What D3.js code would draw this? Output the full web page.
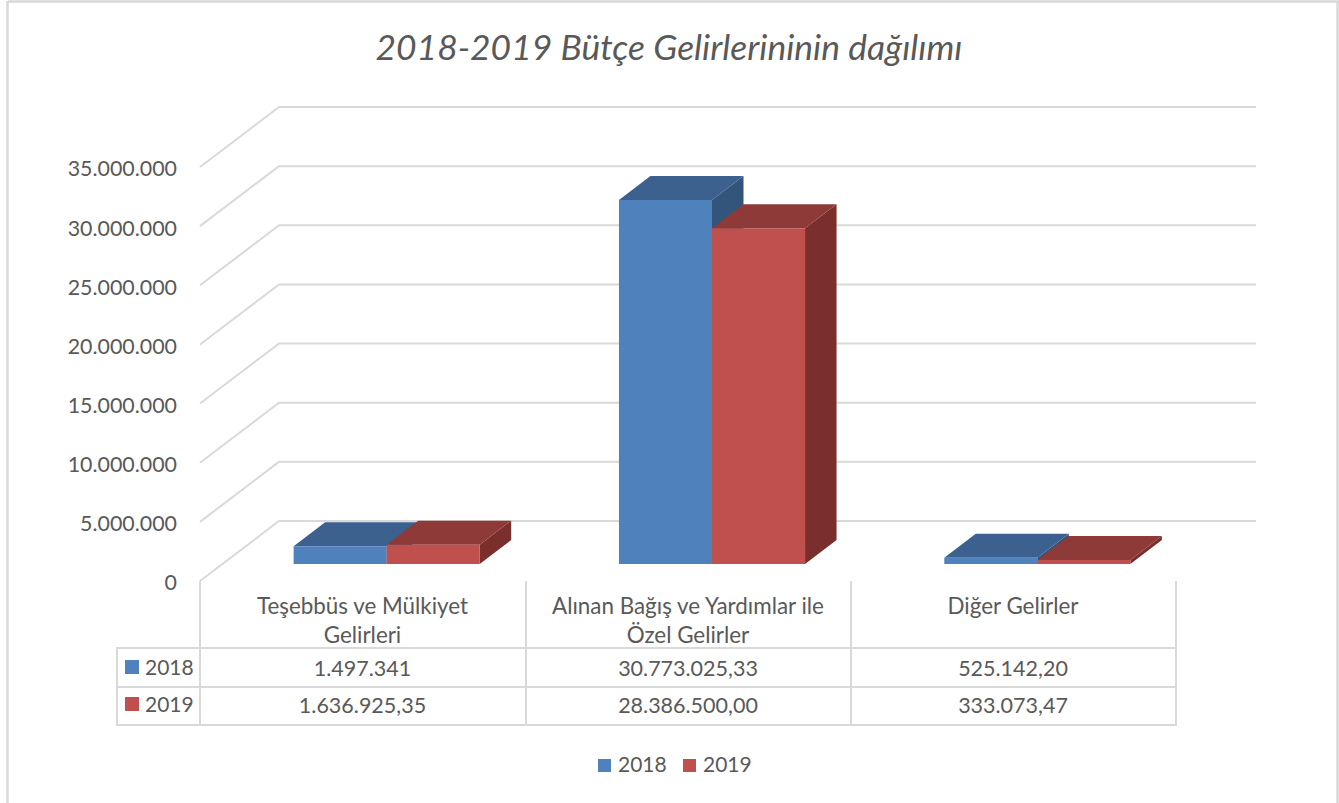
<!DOCTYPE html>
<html><head><meta charset="utf-8">
<script src="https://cdn.jsdelivr.net/npm/d3@7"></script>
<style>html,body{margin:0;background:#fff}svg{display:block}text{font-family:Lato,"Open Sans",sans-serif;fill:#595959}</style>
</head><body><svg id="c" width="1339" height="803"></svg>
<script>
const titleText = "2018-2019 Bütçe Gelirlerininin dağılımı";
const categories = ["Teşebbüs ve Mülkiyet Gelirleri","Alınan Bağış ve Yardımlar ile Özel Gelirler","Diğer Gelirler"];
const categoryLines = [["Teşebbüs ve Mülkiyet","Gelirleri"],["Alınan Bağış ve Yardımlar ile","Özel Gelirler"],["Diğer Gelirler"]];
const seriesNames = ["2018","2019"];
const values2018 = [1497341,30773025.33,525142.20];
const values2019 = [1636925.35,28386500,333073.47];
const labels2018 = ["1.497.341","30.773.025,33","525.142,20"];
const labels2019 = ["1.636.925,35","28.386.500,00","333.073,47"];
const yTicks = [0,5000000,10000000,15000000,20000000,25000000,30000000,35000000];

const colors = {"2018":{front:"#4f81bd",top:"#3c618f",side:"#33547b"},"2019":{front:"#c0504d",top:"#8e3a38",side:"#7a2f2d"}};
const grid="#d9d9d9";
const svg=d3.select("#c");
const y=d3.scaleLinear().domain([0,35000000]).range([581,167]);
const x=d3.scaleBand().domain(categories).range([200,1176]).paddingInner(0.428).paddingOuter(0.214);
const sub=d3.scaleBand().domain(seriesNames).range([0,x.bandwidth()]);
const wall={dx:79,dy:-60}, floor={dx:24,dy:-17}, depth={dx:31.5,dy:-24};
const line=(x1,y1,x2,y2,w=2)=>svg.append("line").attr("x1",x1).attr("y1",y1).attr("x2",x2).attr("y2",y2).attr("stroke",grid).attr("stroke-width",w);

// chart frame
line(8,1.5,1339,1.5,2.5); line(7.5,1,7.5,803,2.5); line(1337.5,1,1337.5,803,2.5);

// title
svg.append("text").attr("x",669).attr("y",60).attr("text-anchor","middle").style("font-size","35.4px").style("font-style","italic").text(titleText);

// walls / gridlines
svg.append("g").selectAll("path").data(yTicks).join("path")
  .attr("fill","none").attr("stroke",grid).attr("stroke-width",2)
  .attr("d",d=>d3.line()([[200,y(d)],[200+wall.dx,y(d)+wall.dy],[1176+wall.dx+1,y(d)+wall.dy]]));

// y axis labels
const axis=svg.append("g").attr("transform","translate(184,2)")
  .call(d3.axisLeft(y).tickValues(yTicks).tickSize(0).tickPadding(7).tickFormat(d=>d3.format(",")(d).replace(/,/g,".")));
axis.select(".domain").remove();
axis.selectAll("text").style("font-size","21.4px").style("fill","#595959");

// bars
const series=[{name:"2018",vals:values2018,labels:labels2018},{name:"2019",vals:values2019,labels:labels2019}];
const bars=svg.append("g");
series.forEach(s=>{
  const c=colors[s.name];
  categories.forEach((cat,i)=>{
    const x0=x(cat)+sub(s.name)+floor.dx, x1=x0+sub.bandwidth();
    const yb=y(0)+floor.dy, yt=y(s.vals[i])+floor.dy;
    const poly=(pts,f)=>bars.append("polygon").attr("points",pts.map(p=>p.join(",")).join(" ")).attr("fill",f);
    poly([[x1,yt],[x1+depth.dx,yt+depth.dy],[x1+depth.dx,yb+depth.dy],[x1,yb]],c.side);
    poly([[x0,yt],[x0+depth.dx,yt+depth.dy],[x1+depth.dx,yt+depth.dy],[x1,yt]],c.top);
    poly([[x0,yt],[x1,yt],[x1,yb],[x0,yb]],c.front);
  });
});

// data table
const rowY=[648,687,725], colX=[200,526,851,1176];
rowY.forEach(v=>line(117,v,1177,v));
line(117,647,117,726);
colX.forEach(v=>line(v,581,v,726));
const cx=i=>(colX[i]+colX[i+1])/2;
categoryLines.forEach((ls,i)=>ls.forEach((t,j)=>svg.append("text").attr("x",cx(i)-0.5).attr("y",614+j*29).attr("text-anchor","middle").style("font-size","22.4px").text(t)));
series.forEach((s,r)=>{
  const yc=[668,705][r];
  svg.append("rect").attr("x",125).attr("y",yc-8).attr("width",14).attr("height",14).attr("fill",colors[s.name].front);
  svg.append("text").attr("x",145).attr("y",yc+7).style("font-size","21px").text(s.name);
  s.labels.forEach((t,i)=>svg.append("text").attr("x",cx(i)-0.5).attr("y",yc+8).attr("text-anchor","middle").style("font-size","21.5px").text(t));
});

// legend
const legendX=[598,683];
series.forEach((s,i)=>{
  svg.append("rect").attr("x",legendX[i]).attr("y",759).attr("width",13).attr("height",13).attr("fill",colors[s.name].front);
  svg.append("text").attr("x",legendX[i]+20).attr("y",772).style("font-size","21px").text(s.name);
});
</script></body></html>
